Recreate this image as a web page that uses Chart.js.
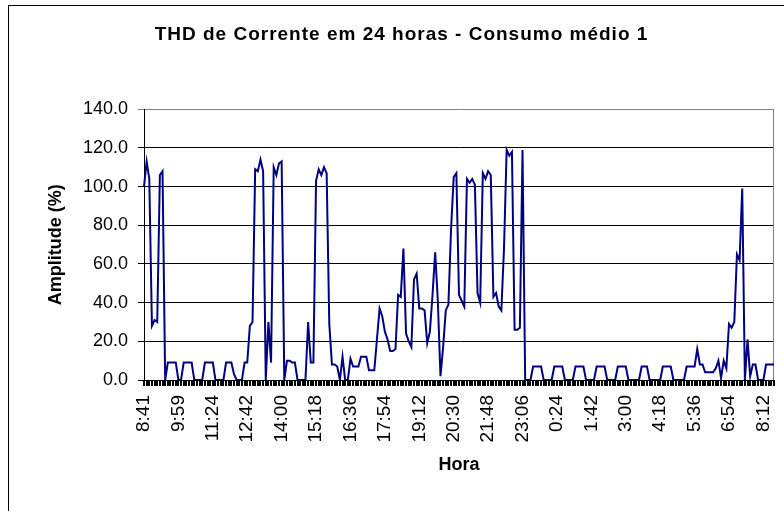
<!DOCTYPE html>
<html>
<head>
<meta charset="utf-8">
<script src="https://cdn.jsdelivr.net/npm/chart.js@4"></script>
<style>
  html, body { margin: 0; padding: 0; background: #fff; overflow: hidden; }
  #wrap { position: relative; width: 784px; height: 511px; overflow: hidden; }
  #frame { position: absolute; left: 8px; top: 5px; width: 900px; height: 700px; border: 1px solid #000; pointer-events: none; }
  canvas { position: absolute; left: 0; top: 0; }
</style>
</head>
<body>
<div id="wrap">
  <div id="frame"></div>
  <canvas id="thd" width="784" height="511"></canvas>
</div>
<script>
// tick labels shown on the x axis, one every 13 samples
const tickLabels = ['8:41', '9:59', '11:24', '12:42', '14:00', '15:18', '16:36', '17:54', '19:12', '20:30',
  '21:48', '23:06', '0:24', '1:42', '3:00', '4:18', '5:36', '6:54', '8:12'];
const labelEvery = 13;

// THD (%), one sample per category
const thd = [
  100, 113, 104, 28, 31, 30, 106, 108, 0, 9,
  9, 9, 9, 0, 0, 9, 9, 9, 9, 0,
  0, 0, 0, 9, 9, 9, 9, 0, 0, 0,
  0, 9, 9, 9, 3, 0, 0, 0, 9, 9,
  28, 30, 109, 108, 114, 108, 0, 30, 9, 110,
  106, 112, 113, 0, 10, 10, 9, 9, 0, 0,
  0, 0, 30, 9, 9, 103, 109, 106, 110, 107,
  29, 8, 8, 7, 0, 12, 0, 0, 11, 7,
  7, 7, 12, 12, 12, 5, 5, 5, 21, 37,
  33, 25, 21, 15, 15, 16, 44, 43, 68, 24,
  20, 17, 52, 55, 37, 37, 36, 19, 25, 44,
  66, 41, 2, 17, 36, 39, 78, 105, 107, 44,
  41, 38, 104, 102, 104, 101, 45, 40, 107, 104,
  108, 106, 43, 45, 38, 36, 68, 119, 116, 118,
  26, 26, 27, 119, 0, 0, 0, 7, 7, 7,
  7, 0, 0, 0, 0, 7, 7, 7, 7, 0,
  0, 0, 0, 7, 7, 7, 7, 0, 0, 0,
  0, 7, 7, 7, 7, 0, 0, 0, 0, 7,
  7, 7, 7, 0, 0, 0, 0, 0, 7, 7,
  7, 0, 0, 0, 0, 0, 7, 7, 7, 7,
  0, 0, 0, 0, 0, 7, 7, 7, 7, 16,
  8, 8, 4, 4, 4, 4, 6, 10, 1, 10,
  6, 29, 27, 30, 65, 62, 99, 0, 21, 2,
  8, 8, 0, 0, 0, 8, 8, 8, 8
];
const categories = thd.map((v, i) => String(i));

const yTicks = [0, 20, 40, 60, 80, 100, 120, 140];

const FONT = "'Liberation Sans', Arial, sans-serif";

// grey right edge of the plot area, like the Excel plot border
const plotBorder = {
  id: 'plotBorder',
  beforeDatasetsDraw(chart) {
    const { ctx, chartArea: a } = chart;
    ctx.save();
    ctx.strokeStyle = '#808080';
    ctx.lineWidth = 1;
    ctx.beginPath();
    ctx.moveTo(Math.round(a.right) - 0.5, a.top);
    ctx.lineTo(Math.round(a.right) - 0.5, a.bottom);
    ctx.stroke();
    ctx.restore();
  }
};

// the Excel title is set a little wider than the font alone gives
const titleSpacing = {
  id: 'titleSpacing',
  beforeDraw(chart) {
    const tb = chart.titleBlock;
    if (tb && !tb._spaced) {
      const draw = tb.draw.bind(tb);
      tb.draw = function () {
        const c = this.ctx;
        c.save();
        c.letterSpacing = '1px';
        draw();
        c.restore();
      };
      tb._spaced = true;
    }
  }
};

new Chart(document.getElementById('thd'), {
  type: 'line',
  data: {
    labels: categories,
    datasets: [{
      data: thd,
      borderColor: '#000080',
      borderWidth: 2,
      pointRadius: 0,
      tension: 0,
      fill: false
    }]
  },
  options: {
    responsive: false,
    animation: false,
    devicePixelRatio: 1,
    layout: { padding: { left: 29, right: 10, top: 0, bottom: 0 } },
    plugins: {
      legend: { display: false },
      tooltip: { enabled: false },
      title: {
        display: true,
        text: 'THD de Corrente em 24 horas - Consumo médio 1',
        color: '#000',
        font: { family: FONT, size: 19, weight: 'bold' },
        padding: { top: 23, bottom: 63.5 }
      }
    },
    scales: {
      x: {
        type: 'category',
        offset: false,
        afterFit(scale) {
          scale.height = 131;
          scale.paddingLeft = 0;
          scale.paddingRight = 0;
        },
        border: { color: '#000', width: 1 },
        grid: { drawOnChartArea: false, drawTicks: true, tickLength: 6, color: '#000', lineWidth: 2 },
        ticks: {
          autoSkip: false,
          maxRotation: 90,
          minRotation: 90,
          padding: 9,
          color: '#000',
          font: { family: FONT, size: 19 },
          callback(value, index) {
            return index % labelEvery === 0 ? (tickLabels[index / labelEvery] || '') : '';
          }
        },
        title: {
          display: true,
          text: 'Hora',
          color: '#000',
          font: { family: FONT, size: 18, weight: 'bold' },
          padding: { top: 0, bottom: 35 }
        }
      },
      y: {
        min: 0,
        max: 140,
        afterFit(scale) { scale.width = 115; },
        afterBuildTicks(scale) { scale.ticks = yTicks.map(v => ({ value: v })); },
        border: { color: '#000', width: 1 },
        grid: {
          color: ctx => (ctx.tick && ctx.tick.value === 140 ? '#808080' : '#000'),
          lineWidth: 1,
          tickLength: 6
        },
        ticks: {
          padding: 10,
          color: '#000',
          font: { family: FONT, size: 18 },
          callback: v => Number(v).toFixed(1)
        },
        title: {
          display: true,
          text: 'Amplitude (%)',
          color: '#000',
          font: { family: FONT, size: 18, weight: 'bold' },
          padding: { top: 16, bottom: 0 }
        }
      }
    }
  },
  plugins: [plotBorder, titleSpacing]
});
</script>
</body>
</html>
